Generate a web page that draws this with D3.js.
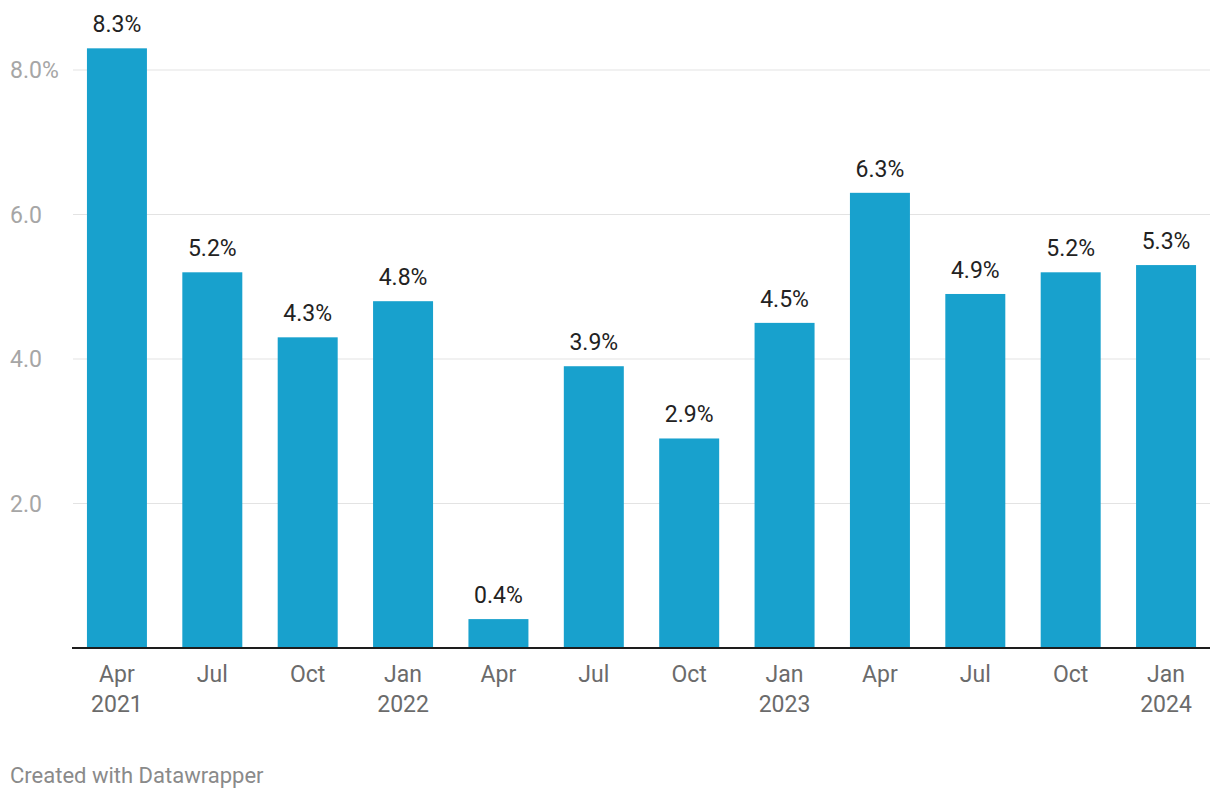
<!DOCTYPE html>
<html>
<head>
<meta charset="utf-8">
<script src="https://cdn.jsdelivr.net/npm/d3@7"></script>
<style>
  body { margin: 0; background: #fff; font-family: Roboto, "Noto Sans", sans-serif; }
</style>
</head>
<body>
<script>
  // quarter labels and values (%)
  var quarters = ["Apr", "Jul", "Oct", "Jan", "Apr", "Jul", "Oct", "Jan", "Apr", "Jul", "Oct", "Jan"];
  var years = ["2021", "", "", "2022", "", "", "", "2023", "", "", "", "2024"];
  var values = [8.3, 5.2, 4.3, 4.8, 0.4, 3.9, 2.9, 4.5, 6.3, 4.9, 5.2, 5.3];
  var yTicks = [2, 4, 6, 8];

  var width = 1220, height = 800;
  var svg = d3.select("body").append("svg")
      .attr("width", width)
      .attr("height", height);

  var idx = d3.range(values.length);

  var x = d3.scaleBand()
      .domain(idx)
      .range([69.3, 1213.7])
      .paddingInner(0.371)
      .paddingOuter(0.185);

  var y = d3.scaleLinear()
      .domain([0, 8])
      .range([648, 70]);

  // gridlines
  svg.append("g").selectAll("line")
    .data(yTicks)
    .enter().append("line")
    .attr("x1", 73).attr("x2", 1210)
    .attr("y1", function(d) { return y(d); })
    .attr("y2", function(d) { return y(d); })
    .attr("stroke", "#e3e3e3")
    .attr("stroke-width", 1);

  // y tick labels
  svg.append("g").selectAll("text")
    .data(yTicks)
    .enter().append("text")
    .attr("x", 10)
    .attr("y", function(d) { return y(d); })
    .attr("dy", "0.35em")
    .attr("fill", "#a6a6a6")
    .style("font-size", "23px")
    .text(function(d) { return d.toFixed(1) + (d === 8 ? "%" : ""); });

  // bars
  svg.append("g").selectAll("rect")
    .data(values)
    .enter().append("rect")
    .attr("x", function(d, i) { return x(i); })
    .attr("width", x.bandwidth())
    .attr("y", function(d) { return y(d); })
    .attr("height", function(d) { return y(0) - y(d); })
    .attr("fill", "#18a1cd");

  // value labels
  svg.append("g").selectAll("text")
    .data(values)
    .enter().append("text")
    .attr("x", function(d, i) { return x(i) + x.bandwidth() / 2; })
    .attr("y", function(d) { return y(d) - 16; })
    .attr("text-anchor", "middle")
    .attr("fill", "#222")
    .style("font-size", "23px")
    .text(function(d) { return d.toFixed(1) + "%"; });

  // baseline
  svg.append("line")
    .attr("x1", 72).attr("x2", 1210)
    .attr("y1", 648).attr("y2", 648)
    .attr("stroke", "#1d1d1d")
    .attr("stroke-width", 2);

  // x labels
  var xl = svg.append("g").selectAll("text")
    .data(idx)
    .enter().append("text")
    .attr("x", function(i) { return x(i) + x.bandwidth() / 2; })
    .attr("y", 682)
    .attr("text-anchor", "middle")
    .attr("fill", "#6b6b6b")
    .style("font-size", "23px");
  xl.append("tspan")
    .attr("x", function(i) { return x(i) + x.bandwidth() / 2; })
    .text(function(i) { return quarters[i]; });
  xl.append("tspan")
    .attr("x", function(i) { return x(i) + x.bandwidth() / 2; })
    .attr("dy", 30)
    .text(function(i) { return years[i]; });

  // footer
  svg.append("text")
    .attr("x", 10)
    .attr("y", 783)
    .attr("fill", "#8a8a8a")
    .style("font-size", "22px")
    .text("Created with Datawrapper");
</script>
</body>
</html>
